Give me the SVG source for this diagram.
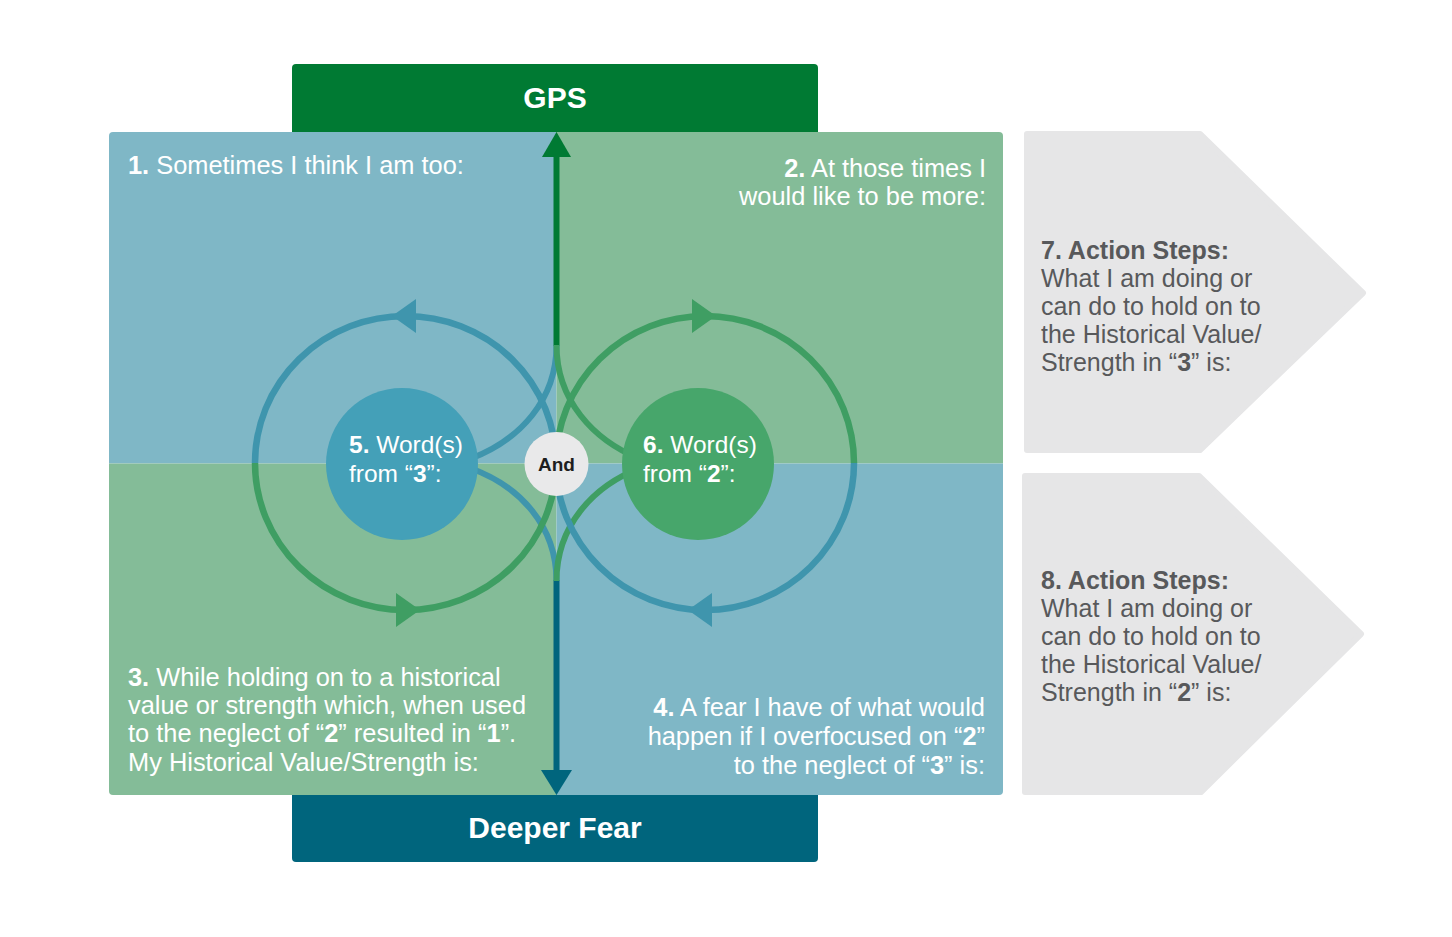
<svg xmlns="http://www.w3.org/2000/svg" width="1452" height="937" viewBox="0 0 1452 937">
<style>
.t{font-family:"Liberation Sans",Arial,Helvetica,sans-serif;font-size:25.4px;fill:#ffffff}
.n{font-family:"Liberation Sans",Arial,Helvetica,sans-serif;font-size:24.5px;fill:#ffffff}
.g{font-family:"Liberation Sans",Arial,Helvetica,sans-serif;font-size:25px;fill:#58595b}
.b{font-weight:bold}
.bar{font-family:"Liberation Sans",Arial,Helvetica,sans-serif;font-size:30px;font-weight:bold;fill:#ffffff}
.ringB{fill:none;stroke:#3f95ad;stroke-width:6.5}
.ringG{fill:none;stroke:#3f9e63;stroke-width:6.5}
.headB{fill:#3f95ad}
.headG{fill:#3f9e63}
</style>
<defs>
<clipPath id="panelClip"><rect x="109" y="132" width="894" height="663" rx="4"/></clipPath>
</defs>
<rect width="1452" height="937" fill="#ffffff"/>

<g id="gps">
<rect x="292" y="64" width="526" height="76" rx="4" fill="#007a33"/>
<text class="bar" x="555" y="108" text-anchor="middle">GPS</text>
</g>
<g id="deeper-fear">
<rect x="292" y="786" width="526" height="76" rx="4" fill="#00657d"/>
<text class="bar" x="555" y="838" text-anchor="middle">Deeper Fear</text>
</g>

<g id="quadrants" clip-path="url(#panelClip)">
<rect x="109" y="132" width="447.5" height="331.5" fill="#7fb7c6"/>
<rect x="556.5" y="132" width="447" height="331.5" fill="#84bc98"/>
<rect x="109" y="463.5" width="447.5" height="332" fill="#84bc98"/>
<rect x="556.5" y="463.5" width="447" height="332" fill="#7fb7c6"/>
</g>

<g id="q1"><text class="t" x="128" y="174"><tspan class="b">1.</tspan> Sometimes I think I am too:</text></g>
<g id="q2">
<text class="t" x="986" y="177" text-anchor="end"><tspan class="b">2.</tspan> At those times I</text>
<text class="t" x="986" y="205" text-anchor="end">would like to be more:</text>
</g>
<g id="q3">
<text class="t" x="128" y="686"><tspan class="b">3.</tspan> While holding on to a historical</text>
<text class="t" x="128" y="714">value or strength which, when used</text>
<text class="t" x="128" y="742">to the neglect of “<tspan class="b">2</tspan>” resulted in “<tspan class="b">1</tspan>”.</text>
<text class="t" x="128" y="771">My Historical Value/Strength is:</text>
</g>
<g id="q4">
<text class="t" x="985" y="716" text-anchor="end"><tspan class="b">4.</tspan> A fear I have of what would</text>
<text class="t" x="985" y="745" text-anchor="end">happen if I overfocused on “<tspan class="b">2</tspan>”</text>
<text class="t" x="985" y="774" text-anchor="end">to the neglect of “<tspan class="b">3</tspan>” is:</text>
</g>

<g id="connectors">
<path d="M556.5 157 V346" fill="none" stroke="#007a33" stroke-width="6"/>
<path d="M556.5 345 C556.5 400 520 440 470 459" fill="none" stroke="#3f95ad" stroke-width="6"/>
<path d="M556.5 345 C556.5 400 593 440 640 459" fill="none" stroke="#3f9e63" stroke-width="6"/>
<path d="M556.5 771 V580" fill="none" stroke="#00657d" stroke-width="6"/>
<path d="M556.5 581 C556.5 526 520 486 470 468" fill="none" stroke="#3f95ad" stroke-width="6"/>
<path d="M556.5 581 C556.5 526 593 486 640 468" fill="none" stroke="#3f9e63" stroke-width="6"/>
<polygon points="556.5,132 542,157 571,157" fill="#007a33"/>
<polygon points="556.5,795 541,770 572,770" fill="#00657d"/>

<path class="ringB" d="M255 463 A150.5 147 0 0 1 556 463"/>
<path class="ringG" d="M255 463 A150.5 147 0 0 0 556 463"/>
<path class="ringG" d="M556 463 A149 147 0 0 1 854 463"/>
<path class="ringB" d="M556 463 A149 147 0 0 0 854 463"/>
<polygon class="headB" points="392,316 416,299 416,333"/>
<polygon class="headG" points="716,316 692,299 692,333"/>
<polygon class="headG" points="420,610 396,593 396,627"/>
<polygon class="headB" points="688,610 712,593 712,627"/>
</g>

<g id="node5">
<circle cx="402" cy="464" r="76" fill="#44a0b8"/>
<text class="n" x="349" y="453"><tspan class="b">5.</tspan> Word(s)</text>
<text class="n" x="349" y="482">from “<tspan class="b">3</tspan>”:</text>
</g>
<g id="node6">
<circle cx="698" cy="464" r="76" fill="#47a66b"/>
<text class="n" x="643" y="453"><tspan class="b">6.</tspan> Word(s)</text>
<text class="n" x="643" y="482">from “<tspan class="b">2</tspan>”:</text>
</g>
<g id="and">
<circle cx="556.5" cy="464" r="32" fill="#e9e9ea"/>
<text x="556.5" y="471" text-anchor="middle" style="font-family:'Liberation Sans',Arial,sans-serif;font-size:19px;font-weight:bold;fill:#1e1e1e">And</text>
</g>

<g id="step7">
<path d="M1027 134 H1200 L1363 293 L1200 450 H1027 Z" fill="#e6e6e7" stroke="#e6e6e7" stroke-width="6" stroke-linejoin="round"/>
<text class="g b" x="1041" y="259">7. Action Steps:</text>
<text class="g" x="1041" y="287">What I am doing or</text>
<text class="g" x="1041" y="315">can do to hold on to</text>
<text class="g" x="1041" y="343">the Historical Value/</text>
<text class="g" x="1041" y="371">Strength in “<tspan class="b">3</tspan>” is:</text>
</g>
<g id="step8">
<path d="M1025 476 H1199 L1361 634 L1201 792 H1025 Z" fill="#e6e6e7" stroke="#e6e6e7" stroke-width="6" stroke-linejoin="round"/>
<text class="g b" x="1041" y="589">8. Action Steps:</text>
<text class="g" x="1041" y="617">What I am doing or</text>
<text class="g" x="1041" y="645">can do to hold on to</text>
<text class="g" x="1041" y="673">the Historical Value/</text>
<text class="g" x="1041" y="701">Strength in “<tspan class="b">2</tspan>” is:</text>
</g>
</svg>
